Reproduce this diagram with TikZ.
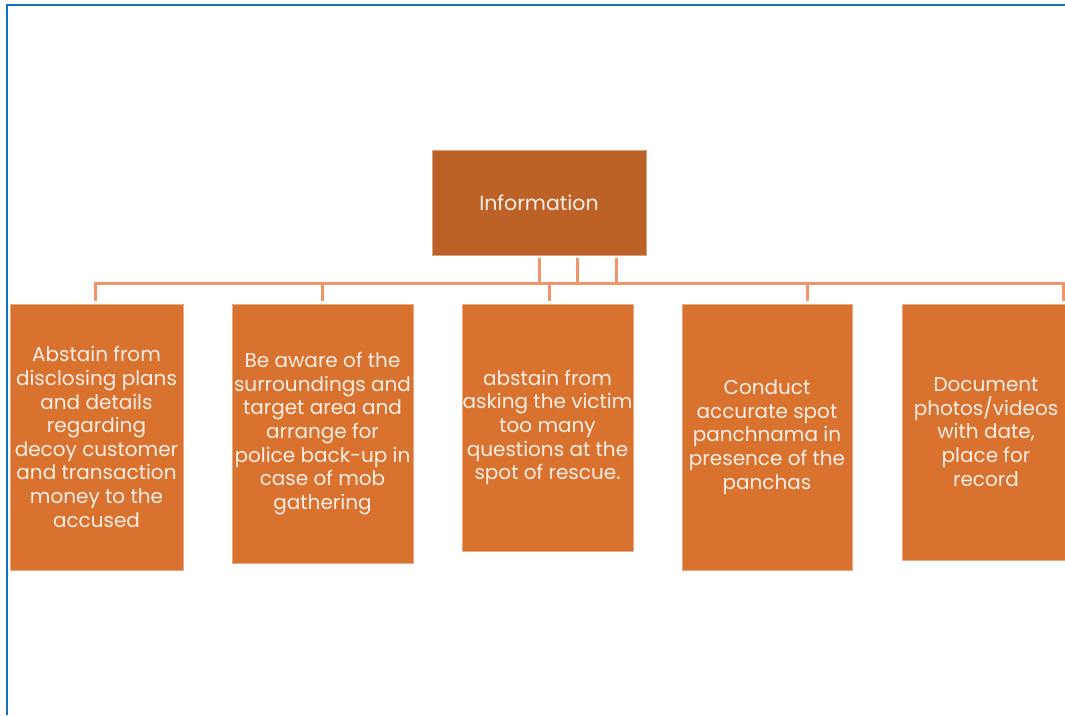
\documentclass[tikz,border=0pt]{standalone}
\usepackage{fontspec}
\setmainfont{Poppins}
\definecolor{headfill}{HTML}{BD6226}
\definecolor{itemfill}{HTML}{D8722E}
\definecolor{linkcol}{HTML}{F0946A}
\definecolor{framecol}{HTML}{0B72C4}
\definecolor{txtcol}{HTML}{FBEEE6}
\tikzset{
  headbox/.style={fill=headfill, draw=headfill!60!white, line width=0.6pt,
    minimum width=214pt, minimum height=105pt, inner sep=0pt,
    text=txtcol, font=\fontsize{20.5}{23.6}\selectfont},
  itembox/.style={fill=itemfill, draw=itemfill!60!white, line width=0.6pt,
    inner sep=0pt, align=center,
    text=txtcol, font=\fontsize{20}{23.6}\selectfont},
  link/.style={draw=linkcol, line width=3pt},
  frameline/.style={draw=framecol, line width=2pt}
}
\begin{document}
\begin{tikzpicture}[x=1pt,y=-1pt]
  \useasboundingbox (0,0) rectangle (1065,715);
  \clip (0,0) rectangle (1065,715);
  \fill[white] (0,0) rectangle (1065,715);

  % page frame (left and top edges)
  \draw[frameline] (7,715) -- (7,4.5) -- (1066,4.5);

  % root
  \node[headbox] (info) at (539,202.5) {Information};

  % children
  \node[itembox, minimum width=173pt, minimum height=266pt] (c1) at (96.5,437)
    {Abstain from\\disclosing plans\\and details\\regarding\\decoy customer\\and transaction\\money to the\\accused};
  \node[itembox, minimum width=181pt, minimum height=259pt] (c2) at (322.5,433.5)
    {Be aware of the\\surroundings and\\target area and\\arrange for\\police back-up in\\case of mob\\gathering};
  \node[itembox, minimum width=171pt, minimum height=247pt] (c3) at (547.5,427.5)
    {abstain from\\asking the victim\\too many\\questions at the\\spot of rescue.};
  \node[itembox, minimum width=170pt, minimum height=266pt] (c4) at (767,437)
    {Conduct\\accurate spot\\panchnama in\\presence of the\\panchas};
  \node[itembox, minimum width=168pt, minimum height=256pt] (c5) at (986,432)
    {Document\\photos/videos\\with date,\\place for\\record};

  % connector bus
  \coordinate (busL) at (95,283.5);
  \coordinate (busR) at (1063,283.5);
  \coordinate (s1) at (539,258);
  \coordinate (s2) at (577,258);
  \coordinate (s3) at (616,258);
  \coordinate (d1) at (95,301);
  \coordinate (d2) at (322,301);
  \coordinate (d3) at (549,301);
  \coordinate (d4) at (807,301);
  \coordinate (d5) at (1063,301);

  \draw[link] (d1) -- (busL) -- (busR) -- (d5);
  \draw[link] (s1) -- (s1 |- busL);
  \draw[link] (s2) -- (s2 |- busL);
  \draw[link] (s3) -- (s3 |- busL);
  \draw[link] (d2 |- busL) -- (d2);
  \draw[link] (d3 |- busL) -- (d3);
  \draw[link] (d4 |- busL) -- (d4);
\end{tikzpicture}
\end{document}
